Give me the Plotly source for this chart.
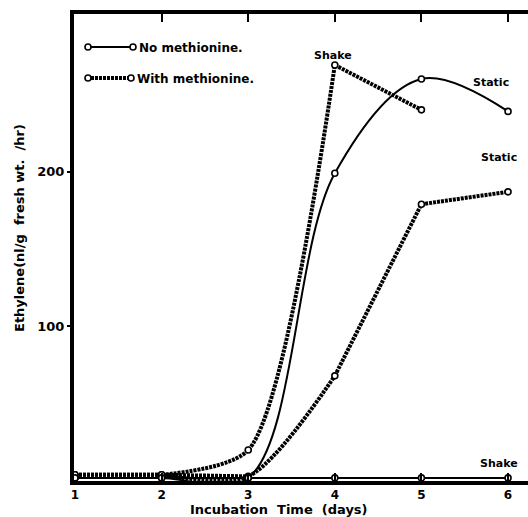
import plotly.graph_objects as go

# ---- data ----
days = [1, 2, 3, 4, 5, 6]
no_meth_static = [2, 2, 2, 199, 260, 239]
no_meth_shake = [2, 2, 2, 2, 2, 2]
with_meth_shake_days = [1, 2, 3, 4, 5]
with_meth_shake = [4, 4, 20, 269, 240]
with_meth_static = [4, 4, 3, 68, 179, 187]

x_ticks = [1, 2, 3, 4, 5, 6]
y_ticks = [100, 200]

FONT = "DejaVu Sans"
W, H = 528, 517
L, R, T, B = 74, 0, 14, 36
PW, PH = W - L - R, H - T - B

def px(X):
    return (X - L) / PW

def py(Y):
    return (H - B - Y) / PH

solid = dict(color="black", width=2)
hatched = dict(color="black", width=4, dash="3px,1px")
marker_f = dict(symbol="circle", size=6, color="white", line=dict(width=1.6, color="black"))

fig = go.Figure()

def seg(xs, ys, i0, i1, line, shape="linear", smoothing=1.0):
    ln = dict(line)
    ln["shape"] = shape
    if shape == "spline":
        ln["smoothing"] = smoothing
    fig.add_trace(go.Scatter(x=xs[i0:i1], y=ys[i0:i1], mode="lines", line=ln,
                             showlegend=False, hoverinfo="skip"))

# segments of each curve (linear where the drawing is straight, spline where curved)
seg(days, no_meth_shake, 0, 6, solid)
seg(days, with_meth_static, 0, 3, hatched)
seg(days, with_meth_static, 1, 4, hatched, "spline", 0.8)
seg(days, with_meth_static, 3, 6, hatched)
seg(with_meth_shake_days, with_meth_shake, 0, 2, hatched)
seg(with_meth_shake_days, with_meth_shake, 1, 4, hatched, "spline", 0.7)
seg(with_meth_shake_days, with_meth_shake, 3, 5, hatched)
seg(days, no_meth_static, 0, 6, solid, "spline", 1.0)

# data point markers
for xs, ys in [(days, no_meth_shake), (days, with_meth_static),
               (with_meth_shake_days, with_meth_shake), (days, no_meth_static)]:
    fig.add_trace(go.Scatter(x=xs, y=ys, mode="markers", marker=marker_f,
                             showlegend=False, hoverinfo="x+y"))

labels = [("Shake", 3.98, 275), ("Static", 5.8, 258), ("Static", 5.9, 209), ("Shake", 5.9, 11)]
for t, xx, yy in labels:
    fig.add_annotation(x=xx, y=yy, text=t, showarrow=False, xanchor="center", yanchor="middle",
                       font=dict(family=FONT, size=11, color="black", weight="bold"))

# manual legend
shapes = []
rows = [(47, 88, 133, "No methionine.", solid), (78, 88, 131, "With methionine.", hatched)]
for Y, x0, x1, txt, ln in rows:
    shapes.append(dict(type="line", xref="paper", yref="paper", x0=px(x0 + 3), x1=px(x1 - 3),
                       y0=py(Y), y1=py(Y), line=ln))
    for cx in (x0, x1):
        shapes.append(dict(type="circle", xref="paper", yref="paper",
                           x0=px(cx - 3), x1=px(cx + 3), y0=py(Y + 3), y1=py(Y - 3),
                           line=dict(color="black", width=1.6), fillcolor="white"))
    fig.add_annotation(xref="paper", yref="paper", x=px(x1 + 4), y=py(Y + 1), text=txt, showarrow=False,
                       xanchor="left", yanchor="middle",
                       font=dict(family=FONT, size=12, color="black", weight="bold"))

fig.update_layout(shapes=shapes)

fig.add_annotation(xref="paper", yref="paper", x=px(19), y=py(228), text="Ethylene(nl/g  fresh wt.  /hr)",
                   textangle=-90, showarrow=False, xanchor="center", yanchor="middle",
                   font=dict(family=FONT, size=13, color="black", weight="bold"))
fig.add_annotation(xref="paper", yref="paper", x=px(279), y=py(509), text="Incubation  Time  (days)",
                   showarrow=False, xanchor="center", yanchor="middle",
                   font=dict(family=FONT, size=13, color="black", weight="bold"))

scale = 86.8  # px per day
x0r = 1 - (L - 73) / scale
x1r = 1 + (W - 74) / scale
fig.update_xaxes(range=[x0r, x1r], tickvals=x_ticks, ticktext=[str(v) for v in x_ticks],
                 showline=True, linewidth=4, linecolor="black", mirror="ticks",
                 ticks="inside", ticklen=8, tickwidth=2, tickcolor="black",
                 showgrid=False, zeroline=False,
                 tickfont=dict(family=FONT, size=12, color="black", weight="bold"))
fig.update_yaxes(range=[0, 302], tickvals=y_ticks, ticktext=[str(v) for v in y_ticks],
                 showline=True, linewidth=4, linecolor="black",
                 ticks="outside", ticklen=3, tickwidth=2, tickcolor="black",
                 showgrid=False, zeroline=False,
                 tickfont=dict(family=FONT, size=13, color="black", weight="bold"))

fig.update_layout(width=W, height=H, margin=dict(l=L, r=R, t=T, b=B),
                  plot_bgcolor="white", paper_bgcolor="white", showlegend=False)

fig.write_html("out.html", config={"displayModeBar": False},
               post_script="document.body.style.margin='0';document.body.style.overflow='hidden';")
